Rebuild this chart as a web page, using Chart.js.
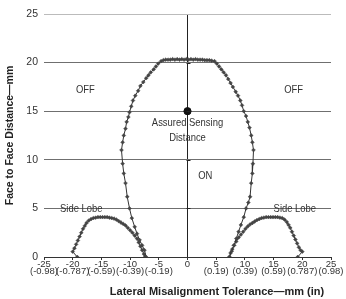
<!DOCTYPE html>
<html><head><meta charset="utf-8">
<script src="https://cdn.jsdelivr.net/npm/chart.js@4"></script>
<style>html,body{margin:0;padding:0;background:#fff}#wrap{width:346px;height:299px}</style>
</head><body><div id="wrap"><canvas id="c" width="346" height="299"></canvas></div>
<script>
const xTickValues = [-25,-20,-15,-10,-5,0,5,10,15,20,25];
const xTickInches = ['(-0.98)','(-0.787)','(-0.59)','(-0.39)','(-0.19)','','(0.19)','(0.39)','(0.59)','(0.787)','(0.98)'];
const yTickValues = [0,5,10,15,20,25];

const mainLobeX = [-7.2,-7.5,-7.9,-8.35,-8.8,-9.2,-9.7,-10.1,-10.5,-10.8,-11.1,-11.3,-11.5,-11.3,-11.1,-10.8,-10.6,-10.3,-10.1,-9.8,-9.5,-9.1,-8.6,-8.2,-7.7,-7.2,-6.8,-6.4,-5.9,-5.5,-5.1,-4.6,-4.2,-3.8,-3.4,-3.0,-2.6,-2.2,-1.8,-1.4,-1.0,-0.6,-0.2,0.2,0.6,1.0,1.4,1.8,2.2,2.6,3.0,3.4,3.8,4.2,4.7,5.1,5.5,5.9,6.3,6.7,7.1,7.5,7.9,8.4,8.8,9.2,9.5,9.8,10.2,10.5,10.8,11.1,11.3,11.5,11.4,11.3,11.1,10.9,10.6,10.2,9.8,9.3,8.9,8.5,8.1,7.7,7.3];
const mainLobeY = [0.0,0.7,1.2,1.75,2.4,3.1,4.0,5.0,6.2,7.6,8.6,9.6,11.0,11.8,12.5,13.2,13.9,14.4,14.9,15.5,16.1,16.6,17.1,17.6,18.0,18.4,18.7,19.0,19.3,19.6,19.9,20.15,20.25,20.3,20.3,20.3,20.35,20.3,20.35,20.3,20.35,20.3,20.35,20.3,20.35,20.3,20.35,20.3,20.3,20.3,20.25,20.25,20.25,20.2,20.15,19.9,19.6,19.3,19.0,18.7,18.3,17.9,17.5,17.0,16.6,16.1,15.6,15.0,14.5,13.9,13.3,12.5,11.8,11.0,9.6,8.6,7.6,6.2,5.6,5.0,4.1,3.3,2.6,1.9,1.2,0.6,0.0];

const leftLobeX = [-19.2,-20.0,-19.7,-19.4,-19.1,-18.8,-18.5,-18.2,-17.9,-17.6,-17.2,-16.8,-16.4,-16.0,-15.6,-15.2,-14.8,-14.4,-14.0,-13.6,-13.2,-12.8,-12.4,-12.0,-11.6,-11.2,-10.8,-10.4,-10.0,-9.6,-9.2,-8.8,-8.5,-8.2,-7.9,-7.6,-7.4];
const leftLobeY = [0.0,0.55,0.9,1.3,1.7,2.1,2.5,2.9,3.2,3.5,3.75,3.9,4.0,4.05,4.1,4.1,4.1,4.1,4.1,4.05,4.0,3.95,3.85,3.7,3.55,3.4,3.25,3.0,2.75,2.5,2.2,1.9,1.5,1.1,0.7,0.3,0.0];
const rightLobeX = [7.3,7.5,7.8,8.1,8.5,8.9,9.3,9.7,10.1,10.5,10.9,11.3,11.7,12.1,12.5,12.9,13.3,13.7,14.1,14.5,14.9,15.3,15.7,16.1,16.5,16.9,17.3,17.6,17.9,18.2,18.5,18.8,19.1,19.4,19.7,20.0,19.2];
const rightLobeY = [0.0,0.4,0.8,1.2,1.6,2.0,2.3,2.6,2.9,3.15,3.35,3.5,3.65,3.8,3.9,4.0,4.05,4.1,4.1,4.1,4.1,4.1,4.1,4.05,4.0,3.85,3.6,3.3,3.0,2.6,2.2,1.8,1.4,1.0,0.7,0.55,0.0];

const assuredX = [0];
const assuredY = [15];

const zip = (xs, ys) => xs.map((x, i) => ({x, y: ys[i]}));

const labels = [
  {text:'OFF', x:-17.8, y:17.2},
  {text:'OFF', x:18.5, y:17.2},
  {text:'Assured Sensing', x:0, y:13.8},
  {text:'Distance', x:0, y:12.3},
  {text:'ON', x:3.1, y:8.35},
  {text:'Side Lobe', x:-18.5, y:5.0},
  {text:'Side Lobe', x:18.7, y:5.0}
];

const FONT = '"Liberation Sans", Arial, sans-serif';

const textPlugin = {
  id: 'texts',
  afterDatasetsDraw(chart) {
    const {ctx, scales:{x, y}} = chart;
    ctx.save();
    ctx.fillStyle = '#333';
    ctx.font = '11.5px ' + FONT;
    ctx.textAlign = 'center';
    ctx.textBaseline = 'middle';
    const sx = 0.82;
    labels.forEach(l => {
      const px = x.getPixelForValue(l.x), py = y.getPixelForValue(l.y);
      ctx.save();
      ctx.translate(px, py);
      ctx.scale(sx, 1);
      ctx.fillText(l.text, 0, 0);
      ctx.restore();
    });
    ctx.strokeStyle = '#222';
    ctx.lineWidth = 1;
    const cx = Math.round(x.getPixelForValue(0)) + 0.5;
    yTickValues.forEach(v => {
      if (v === 0 || v === 25) return;
      const py = Math.round(y.getPixelForValue(v)) + 0.5;
      ctx.beginPath(); ctx.moveTo(cx - 2, py); ctx.lineTo(cx + 2, py); ctx.stroke();
    });
    ctx.font = 'bold 11px ' + FONT;
    ctx.fillStyle = '#222';
    ctx.fillText('Lateral Misalignment Tolerance\u2014mm (in)', 217, 292);
    ctx.restore();
  }
};

const lineDs = (data) => ({
  data, showLine: true, borderColor: '#333', borderWidth: 1,
  pointStyle: 'rectRot', pointRadius: 1.9, pointBackgroundColor: '#444',
  pointBorderColor: '#444', pointBorderWidth: 0.5, tension: 0
});

new Chart(document.getElementById('c'), {
  type: 'scatter',
  data: {
    datasets: [
      lineDs(zip(mainLobeX, mainLobeY)),
      lineDs(zip(leftLobeX, leftLobeY)),
      lineDs(zip(rightLobeX, rightLobeY)),
      {data: zip(assuredX, assuredY), pointRadius: 3.6, pointBackgroundColor: '#111', pointBorderColor: '#111', showLine: false}
    ]
  },
  options: {
    responsive: false,
    animation: false,
    layout: {padding: {top: 14, right: 15, left: 4, bottom: 0}},
    plugins: {legend: {display: false}, tooltip: {enabled: false}},
    scales: {
      x: {
        type: 'linear', min: -25, max: 25,
        afterBuildTicks: s => { s.ticks = xTickValues.map(v => ({value: v})); },
        afterFit: s => { s.height = 42; },
        border: {display: true, color: '#333', width: 1},
        grid: {
          color: c => (c.tick && c.tick.value === 0) ? '#222' : 'rgba(0,0,0,0)',
          drawTicks: true, tickLength: 3, tickColor: '#333', lineWidth: 1
        },
        ticks: {
          color: '#333', padding: 0, maxRotation: 0, autoSkip: false,
          font: {family: FONT, size: 9.5, lineHeight: 0.82},
          callback: v => { const i = xTickValues.indexOf(v); return xTickInches[i] ? [String(v), xTickInches[i]] : String(v); }
        }
      },
      y: {
        type: 'linear', min: 0, max: 25,
        afterBuildTicks: s => { s.ticks = yTickValues.map(v => ({value: v})); },
        afterFit: s => { s.width = 40; },
        border: {display: false},
        grid: {
          color: c => c.tick.value === 25 ? '#bbb' : (c.tick.value === 0 ? '#333' : '#6f6f6f'),
          drawTicks: false, lineWidth: 1
        },
        ticks: {color: '#333', padding: 6, font: {family: FONT, size: 10.5}},
        title: {display: true, text: 'Face to Face Distance\u2014mm', color: '#222', font: {family: FONT, size: 10.5, weight: 'bold'}, padding: {top: 0, bottom: 4}}
      }
    }
  },
  plugins: [textPlugin]
});
</script></body></html>
